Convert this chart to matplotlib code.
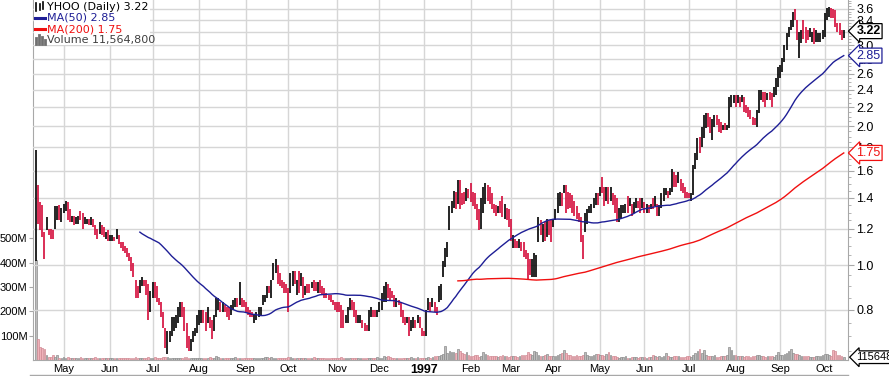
import numpy as np
import pandas as pd
import matplotlib
matplotlib.use('Agg')
import matplotlib.pyplot as plt
from matplotlib.lines import Line2D
from matplotlib.patches import Rectangle

FONT_SMALL = 7.5
FONT_MEDIUM = 8

W, H = 889, 376

# NYSE holidays in the range
holidays = ['1996-05-27', '1996-07-04', '1996-09-02', '1996-11-28', '1996-12-25',
            '1997-01-01', '1997-02-17', '1997-03-28', '1997-05-26', '1997-07-04', '1997-09-01']

# daily bars, 12 Apr 1996 .. 14 Oct 1997 (one line per month)
high = [
    1.78,1.49,1.37,1.35,1.18,1.27,1.20,1.20,1.19,1.34,1.34,1.35,1.33,
    1.36,1.38,1.37,1.32,1.28,1.28,1.27,1.28,1.31,1.30,1.27,1.26,1.26,1.27,1.26,1.22,1.20,1.24,1.22,1.21,1.18,1.19,
    1.16,1.16,1.15,1.20,1.16,1.12,1.12,1.10,1.09,1.06,1.04,1.01,0.93,0.90,0.93,0.94,0.93,0.93,0.91,0.88,
    0.92,0.92,0.90,0.85,0.83,0.79,0.73,0.72,0.72,0.77,0.77,0.78,0.81,0.83,0.83,0.81,0.75,0.70,0.69,0.72,0.73,0.78,
    0.80,0.80,0.80,0.79,0.81,0.77,0.76,0.78,0.85,0.85,0.83,0.83,0.82,0.81,0.81,0.82,0.84,0.85,0.85,0.92,0.85,0.84,
    0.83,0.81,0.80,0.79,0.78,0.79,0.81,0.81,0.86,0.86,0.90,0.90,0.93,1.01,1.03,1.00,0.96,0.93,0.92,0.91,
    0.89,0.96,0.97,0.97,0.93,0.97,0.96,0.94,0.90,0.91,0.91,0.92,0.93,0.92,0.92,0.93,0.90,0.89,0.87,0.86,0.86,0.84,0.83,
    0.83,0.83,0.82,0.80,0.78,0.81,0.85,0.84,0.83,0.80,0.78,0.78,0.76,0.75,0.74,0.80,0.81,0.80,0.80,0.80,
    0.83,0.87,0.90,0.92,0.91,0.89,0.88,0.86,0.85,0.84,0.83,0.80,0.77,0.77,0.77,0.76,0.77,0.76,0.78,0.77,0.73,
    0.72,0.80,0.85,0.83,0.85,0.83,0.81,0.90,0.91,1.02,1.09,1.12,1.34,1.38,1.45,1.44,1.53,1.53,1.43,1.44,1.47,1.46,
    1.51,1.44,1.43,1.36,1.32,1.40,1.48,1.51,1.49,1.48,1.43,1.36,1.35,1.34,1.38,1.41,1.36,1.33,1.32,
    1.26,1.16,1.14,1.13,1.14,1.12,1.12,1.08,1.06,1.03,1.03,1.06,1.05,1.27,1.25,1.23,1.24,1.26,1.25,1.26,
    1.26,1.32,1.43,1.44,1.43,1.49,1.49,1.44,1.43,1.42,1.38,1.34,1.30,1.27,1.16,1.30,1.32,1.34,1.36,1.40,1.43,1.43,
    1.48,1.55,1.48,1.48,1.48,1.48,1.43,1.42,1.40,1.33,1.35,1.35,1.36,1.41,1.40,1.36,1.37,1.40,1.38,1.40,1.40,
    1.37,1.36,1.35,1.36,1.40,1.41,1.36,1.35,1.43,1.47,1.47,1.45,1.47,1.62,1.59,1.57,1.59,1.54,1.51,1.48,1.44,
    1.43,1.43,1.65,1.75,1.89,1.90,1.99,2.12,2.14,2.14,2.10,2.07,2.12,2.12,2.07,2.04,2.01,2.03,2.01,2.32,2.34,2.34,
    2.34,2.34,2.32,2.34,2.32,2.23,2.20,2.17,2.10,2.09,2.17,2.40,2.40,2.38,2.38,2.36,2.38,2.36,2.44,2.55,2.69,
    2.72,2.81,3.00,3.19,3.28,3.40,3.55,3.60,3.40,3.20,3.24,3.40,3.28,3.24,3.27,3.20,3.27,3.24,3.19,3.19,3.24,
    3.52,3.62,3.64,3.62,3.60,3.58,3.35,3.35,3.24,3.24,
]
low = [
    1.02,1.23,1.19,1.15,1.03,1.19,1.16,1.14,1.14,1.20,1.25,1.25,1.24,
    1.30,1.31,1.25,1.24,1.24,1.22,1.23,1.23,1.25,1.20,1.23,1.23,1.22,1.22,1.21,1.16,1.14,1.17,1.16,1.15,1.14,1.13,
    1.13,1.13,1.13,1.14,1.11,1.09,1.07,1.06,1.04,1.02,0.97,0.94,0.85,0.85,0.87,0.90,0.90,0.86,0.76,0.79,
    0.85,0.85,0.83,0.82,0.77,0.73,0.66,0.64,0.68,0.70,0.72,0.73,0.75,0.77,0.77,0.72,0.66,0.65,0.65,0.68,0.70,0.71,
    0.74,0.75,0.75,0.72,0.75,0.73,0.69,0.72,0.77,0.80,0.79,0.79,0.79,0.77,0.76,0.78,0.80,0.81,0.81,0.82,0.81,0.81,
    0.79,0.78,0.77,0.77,0.75,0.76,0.77,0.78,0.82,0.83,0.85,0.87,0.85,0.93,0.96,0.91,0.90,0.89,0.87,0.87,
    0.79,0.87,0.90,0.91,0.86,0.87,0.90,0.85,0.86,0.87,0.87,0.89,0.88,0.88,0.87,0.87,0.86,0.85,0.85,0.84,0.83,0.82,0.80,
    0.79,0.79,0.73,0.73,0.75,0.75,0.80,0.80,0.77,0.75,0.75,0.75,0.73,0.72,0.72,0.72,0.77,0.77,0.77,0.77,
    0.79,0.80,0.83,0.83,0.85,0.84,0.85,0.81,0.81,0.82,0.77,0.75,0.74,0.75,0.70,0.72,0.73,0.73,0.75,0.73,0.70,
    0.70,0.70,0.80,0.79,0.81,0.79,0.78,0.83,0.84,0.94,0.99,1.04,1.19,1.30,1.33,1.32,1.36,1.32,1.35,1.36,1.38,1.40,
    1.37,1.34,1.32,1.25,1.19,1.20,1.30,1.36,1.38,1.36,1.32,1.30,1.28,1.30,1.30,1.27,1.26,1.25,1.21,
    1.13,1.09,1.09,1.09,1.09,1.07,1.04,1.03,0.93,0.95,0.94,0.94,0.94,1.12,1.16,1.12,1.13,1.15,1.16,1.12,
    1.21,1.25,1.30,1.34,1.34,1.43,1.30,1.32,1.33,1.30,1.28,1.26,1.24,1.12,1.03,1.18,1.23,1.30,1.30,1.33,1.35,1.35,
    1.41,1.43,1.34,1.38,1.36,1.38,1.35,1.30,1.24,1.24,1.26,1.30,1.30,1.30,1.34,1.28,1.30,1.33,1.33,1.30,1.33,
    1.30,1.30,1.30,1.32,1.32,1.34,1.28,1.28,1.33,1.38,1.42,1.40,1.42,1.44,1.48,1.48,1.51,1.45,1.43,1.40,1.40,
    1.40,1.38,1.42,1.62,1.69,1.75,1.80,1.89,1.98,1.99,1.93,1.87,1.99,2.01,1.94,1.93,1.96,1.96,1.96,1.98,2.20,2.25,
    2.20,2.25,2.20,2.26,2.15,2.14,2.10,2.07,2.01,2.01,1.99,2.14,2.28,2.26,2.20,2.28,2.28,2.20,2.32,2.34,2.44,
    2.55,2.63,2.76,2.93,3.13,3.24,3.28,3.40,3.08,2.81,3.03,3.10,3.03,3.08,3.12,3.05,3.02,3.05,3.05,3.05,3.10,
    3.13,3.40,3.45,3.43,3.43,3.28,3.20,3.16,3.08,3.11,
]
close = [
    1.38,1.27,1.22,1.18,1.10,1.24,1.17,1.16,1.15,1.31,1.32,1.29,1.30,
    1.35,1.37,1.28,1.26,1.27,1.24,1.26,1.27,1.26,1.23,1.25,1.26,1.23,1.25,1.22,1.18,1.15,1.21,1.18,1.16,1.17,1.15,
    1.15,1.16,1.14,1.19,1.12,1.10,1.08,1.07,1.05,1.03,0.99,0.95,0.86,0.85,0.90,0.92,0.91,0.88,0.78,0.85,
    0.90,0.88,0.85,0.83,0.78,0.74,0.68,0.70,0.71,0.75,0.76,0.77,0.80,0.82,0.79,0.74,0.68,0.67,0.68,0.71,0.72,0.76,
    0.79,0.80,0.77,0.74,0.78,0.75,0.71,0.76,0.83,0.84,0.81,0.82,0.80,0.78,0.77,0.80,0.83,0.84,0.82,0.88,0.83,0.82,
    0.80,0.79,0.78,0.77,0.78,0.79,0.80,0.81,0.85,0.86,0.89,0.88,0.91,0.99,1.01,0.93,0.91,0.90,0.88,0.87,
    0.82,0.94,0.95,0.92,0.93,0.89,0.93,0.88,0.90,0.89,0.88,0.91,0.90,0.89,0.90,0.89,0.87,0.86,0.85,0.84,0.83,0.82,0.81,
    0.80,0.79,0.77,0.75,0.76,0.79,0.83,0.81,0.78,0.76,0.77,0.78,0.74,0.73,0.72,0.78,0.80,0.78,0.77,0.79,
    0.82,0.86,0.88,0.90,0.87,0.86,0.85,0.82,0.84,0.83,0.79,0.77,0.75,0.76,0.72,0.74,0.76,0.74,0.77,0.74,0.71,
    0.70,0.78,0.84,0.81,0.84,0.80,0.79,0.88,0.89,1.00,1.06,1.10,1.30,1.35,1.42,1.37,1.48,1.40,1.38,1.37,1.44,1.43,
    1.41,1.38,1.34,1.28,1.21,1.36,1.45,1.48,1.43,1.40,1.36,1.32,1.30,1.33,1.32,1.29,1.31,1.27,1.23,
    1.14,1.15,1.12,1.10,1.13,1.08,1.06,1.04,0.98,0.96,1.00,1.03,1.04,1.22,1.19,1.21,1.17,1.23,1.19,1.17,
    1.25,1.30,1.39,1.41,1.37,1.47,1.38,1.36,1.35,1.33,1.31,1.28,1.25,1.20,1.12,1.27,1.29,1.32,1.34,1.37,1.40,1.38,
    1.46,1.44,1.38,1.44,1.40,1.42,1.37,1.33,1.27,1.30,1.32,1.33,1.34,1.32,1.37,1.31,1.34,1.37,1.35,1.34,1.37,
    1.33,1.34,1.31,1.35,1.34,1.38,1.31,1.33,1.41,1.45,1.46,1.42,1.45,1.58,1.52,1.50,1.56,1.48,1.46,1.42,1.41,
    1.40,1.42,1.60,1.72,1.85,1.79,1.95,2.05,2.10,2.03,1.97,2.04,2.09,2.05,2.00,1.96,2.00,1.98,2.00,2.25,2.30,2.32,
    2.26,2.31,2.25,2.30,2.20,2.17,2.13,2.10,2.04,2.03,2.14,2.35,2.37,2.35,2.22,2.29,2.26,2.20,2.41,2.50,2.60,
    2.68,2.76,2.95,3.10,3.25,3.35,3.45,3.42,3.15,3.18,3.18,3.15,3.11,3.10,3.14,3.15,3.09,3.12,3.13,3.14,3.17,
    3.45,3.55,3.60,3.50,3.47,3.35,3.26,3.22,3.15,3.22,
]
# volume in millions of shares
volume = [
    410,85,52,50,45,22,12,14,22,11,20,10,9,
    12,10,14,9,8,10,9,8,11,9,8,9,10,8,9,11,8,10,9,8,9,8,
    8,9,7,8,10,8,9,8,7,9,10,8,12,9,8,10,9,8,11,9,
    10,12,9,8,10,11,13,14,10,9,8,9,10,8,9,11,12,9,8,10,9,8,
    9,8,10,9,8,11,9,10,15,12,9,8,9,10,9,8,9,11,9,8,10,9,
    8,9,8,10,9,8,9,10,9,14,11,9,12,10,9,8,9,10,9,10,
    11,14,10,9,8,10,9,8,9,10,8,9,12,9,8,9,8,9,10,9,8,9,10,
    9,8,12,10,9,8,9,8,9,10,9,8,9,8,10,9,8,9,10,11,
    9,10,15,12,16,11,9,10,9,8,9,10,9,8,9,12,9,10,11,9,8,
    9,10,11,10,12,15,18,16,22,25,56,30,35,32,34,30,47,36,28,25,33,20,
    18,15,22,20,14,16,31,24,20,18,16,15,17,14,16,20,18,15,14,
    16,15,18,14,15,20,22,19,33,25,20,36,34,22,18,16,20,24,18,16,
    15,18,20,25,30,40,28,22,20,18,16,20,15,17,22,33,20,16,18,22,26,25,
    22,20,18,24,33,22,16,15,12,10,14,12,15,10,9,12,13,11,10,12,14,
    12,10,14,12,22,15,13,16,12,18,27,16,14,13,17,18,15,14,12,13,15,
    16,14,20,28,38,46,30,40,22,18,16,15,20,14,13,18,15,16,20,52,40,22,
    20,18,16,15,14,18,16,14,15,17,22,20,18,16,14,15,18,16,14,20,33,
    22,20,26,30,38,44,28,25,24,20,18,16,17,15,14,13,14,16,18,15,20,
    26,24,20,18,40,35,22,20,18,12,
]
price_ticks = [0.8, 1.0, 1.2, 1.4, 1.6, 1.8, 2.0, 2.2, 2.4, 2.6, 2.8, 3.0, 3.2, 3.4, 3.6]
vol_ticks = [100, 200, 300, 400, 500]

BLACK = '#000000'
RED = '#d40a3a'
NAVY = '#1e1e96'
MARED = '#f01010'
GRID = '#d6d6d6'
AXC = '#a8a8a8'
AXFONT = ['Liberation Sans', 'DejaVu Sans']

dates = pd.bdate_range('1996-04-12', '1997-10-14')
dates = dates[~dates.isin(pd.to_datetime(holidays))]
n = len(close)
dates = dates[:n]
xs = np.arange(n)

hi = np.array(high)
lo = np.array(low)
cl = np.array(close)
vol = np.array(volume, dtype=float)
up = np.r_[True, cl[1:] >= cl[:-1]]

ma50 = pd.Series(cl).rolling(50).mean()
ma200 = pd.Series(cl).rolling(200).mean()

month_pos = [i for i in range(1, n) if dates[i].month != dates[i - 1].month]
month_lab = ['1997' if dates[i].month == 1 else dates[i].strftime('%b') for i in month_pos]

plt.rcParams['font.family'] = ['DejaVu Sans']

fig = plt.figure(figsize=(W / 100, H / 100), dpi=100)
L, R, T, B = 33, 848, 0, 360
axv = fig.add_axes([L / W, 1 - B / H, (R - L) / W, (B - T) / H])
axp = axv.twinx()

# volume (behind)
axv.bar(xs, vol, width=0.8,
        color=['#bcbcbc' if u else '#f0b2ba' for u in up],
        edgecolor=['#8c8c8c' if u else '#d08a94' for u in up], linewidth=0.5)
axv.set_ylim(0, 1481)
axv.set_xlim(-1.4, 383.0)
axv.set_yticks(vol_ticks)
axv.set_yticklabels(['%dM' % v for v in vol_ticks], fontsize=FONT_MEDIUM, family=AXFONT)
axv.tick_params(axis='y', length=3, color=AXC, pad=1)
axv.set_xticks(month_pos)
axv.set_xticklabels(month_lab, fontsize=FONT_MEDIUM, family=AXFONT)
for t in axv.get_xticklabels():
    if t.get_text() == '1997':
        t.set_fontweight('bold')
        t.set_fontsize(9)
axv.tick_params(axis='x', length=0, pad=3)
axv.grid(axis='x', color=GRID, lw=1)
axv.set_axisbelow(True)
for s in ['left', 'bottom', 'right']:
    axv.spines[s].set_color(AXC)
axv.spines['top'].set_visible(False)

# price (log scale)
axp.set_yscale('log')
axp.set_ylim(np.exp(-95 / 200), np.exp(265 / 200))
axp.set_yticks(price_ticks)
axp.set_yticklabels(['%.1f' % p for p in price_ticks], fontsize=9, family=AXFONT)
minor = [round(v, 2) for v in np.arange(0.65, 3.76, 0.05) if round(v, 2) not in price_ticks]
axp.set_yticks(minor, minor=True)
axp.set_yticklabels([], minor=True)
axp.tick_params(axis='y', which='major', length=4, color=AXC, pad=2)
axp.tick_params(axis='y', which='minor', length=2, color=AXC)
axp.grid(axis='y', which='major', color=GRID, lw=1, zorder=0)
for s in axp.spines.values():
    s.set_visible(False)

axp.vlines(xs, lo, hi, colors=[BLACK if u else RED for u in up], lw=1.2, zorder=3)
axp.plot(xs, ma50, color=NAVY, lw=1.0, zorder=4)
axp.plot(xs, ma200, color=MARED, lw=1.0, zorder=4)

# value tags on the right
ytr = axp.get_yaxis_transform()
tags = [(cl[-1], '%.2f' % cl[-1], BLACK, 'bold'),
        (ma50.iloc[-1], '%.2f' % ma50.iloc[-1], NAVY, 'normal'),
        (ma200.iloc[-1], '%.2f' % ma200.iloc[-1], MARED, 'normal')]
for v, s, c, w in tags:
    axp.annotate(s, xy=(1.0, v), xycoords=ytr, xytext=(6, 0), textcoords='offset points',
                 va='center', ha='left', fontsize=9, color=c, fontweight=w, family=AXFONT,
                 annotation_clip=False, zorder=10,
                 bbox=dict(boxstyle='larrow,pad=0.12', fc='white', ec=c, lw=0.9))
axv.annotate('11564800', xy=(1.0, 11.56), xycoords=axv.get_yaxis_transform(),
             xytext=(6, 0), textcoords='offset points', va='center', ha='left',
             fontsize=FONT_MEDIUM, color=BLACK, family=AXFONT, annotation_clip=False, zorder=10,
             bbox=dict(boxstyle='larrow,pad=0.12', fc='white', ec=BLACK, lw=0.9))


def fx(x):
    return x / W


def fy(y):
    return 1 - y / H


# legend block, top left
fig.add_artist(Rectangle((fx(34), fy(45)), fx(116), 45 / H, transform=fig.transFigure,
                         fc='white', ec='none', zorder=5))
fig.text(fx(47), fy(7), 'YHOO (Daily) %.2f' % cl[-1], fontsize=FONT_MEDIUM, va='center', zorder=6)
fig.text(fx(47), fy(18), 'MA(50) %.2f' % ma50.iloc[-1], fontsize=FONT_MEDIUM, color=NAVY, va='center', zorder=6)
fig.text(fx(47), fy(29), 'MA(200) %.2f' % ma200.iloc[-1], fontsize=FONT_MEDIUM, color=MARED, va='center', zorder=6)
fig.text(fx(47), fy(40), 'Volume 11,564,800', fontsize=FONT_MEDIUM, color='#404040', va='center', zorder=6)
for x0, y0, y1 in [(36, 3, 11), (39.5, 4, 10), (43, 2, 9)]:
    fig.add_artist(Line2D([fx(x0), fx(x0)], [fy(y0), fy(y1)], color=BLACK, lw=1.2, zorder=6))
fig.add_artist(Line2D([fx(35), fx(45)], [fy(18), fy(18)], color=NAVY, lw=2.2, zorder=6))
fig.add_artist(Line2D([fx(35), fx(45)], [fy(29), fy(29)], color=MARED, lw=2.2, zorder=6))
for x0, y0 in [(36, 38), (39, 35), (42, 37), (45, 40)]:
    fig.add_artist(Line2D([fx(x0), fx(x0)], [fy(44), fy(y0)], color='#707070', lw=2.0, zorder=6))

fig.add_artist(Line2D([fx(30), fx(R)], [fy(375), fy(375)], color=AXC, lw=1))

plt.savefig('out.png', dpi=100)
